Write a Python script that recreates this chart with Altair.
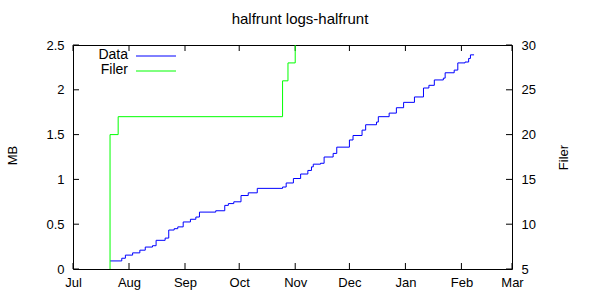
import altair as alt
import pandas as pd

# ---- data ----
data_dates = ["2009-07-21T12:00", "2009-07-28", "2009-07-30", "2009-08-03", "2009-08-07", "2009-08-10",
              "2009-08-14", "2009-08-16", "2009-08-21", "2009-08-23", "2009-08-26", "2009-08-28",
              "2009-08-31", "2009-09-04", "2009-09-07", "2009-09-09", "2009-09-18", "2009-09-23",
              "2009-09-25", "2009-09-28", "2009-10-02", "2009-10-06", "2009-10-11", "2009-10-25",
              "2009-10-27", "2009-10-31", "2009-11-04", "2009-11-08", "2009-11-10", "2009-11-11",
              "2009-11-15", "2009-11-17", "2009-11-22", "2009-11-24", "2009-12-01", "2009-12-03",
              "2009-12-08", "2009-12-10", "2009-12-16", "2009-12-17", "2009-12-23", "2009-12-27",
              "2009-12-31", "2010-01-06", "2010-01-11", "2010-01-14", "2010-01-17", "2010-01-22",
              "2010-01-23", "2010-01-28", "2010-01-30", "2010-02-03", "2010-02-05", "2010-02-06",
              "2010-02-08"]
data_mb = [0.09, 0.12, 0.155, 0.18, 0.21, 0.245,
           0.26, 0.32, 0.345, 0.435, 0.45, 0.47,
           0.525, 0.555, 0.58, 0.635, 0.65, 0.71,
           0.73, 0.75, 0.82, 0.85, 0.90, 0.915,
           0.96, 1.01, 1.06, 1.10, 1.14, 1.17,
           1.18, 1.25, 1.29, 1.36, 1.44, 1.49,
           1.55, 1.61, 1.64, 1.70, 1.74, 1.80,
           1.86, 1.92, 2.02, 2.05, 2.11, 2.13,
           2.19, 2.22, 2.30, 2.31, 2.35, 2.39,
           2.39]

filer_dates = ["2009-07-21T12:00", "2009-07-26", "2009-10-25", "2009-10-28", "2009-11-01", "2009-11-02"]
filer_counts = [5, 20, 22, 26, 28, 34]

month_ticks = ["2009-07-01", "2009-08-01", "2009-09-01", "2009-10-01", "2009-11-01",
               "2009-12-01", "2010-01-01", "2010-02-01", "2010-03-01"]
mb_ticks = [0, 0.5, 1, 1.5, 2, 2.5]
filer_ticks = [5, 10, 15, 20, 25, 30]

series_names = ["Data", "Filer"]
series_colors = ["#0000ff", "#00ff00"]
chart_title = "halfrunt logs-halfrunt"

# ---- layout ----
W, H = 439, 224
FONT = "Liberation Sans"
TICK = 6
LBL = 13

df_data = pd.DataFrame({"date": pd.to_datetime(data_dates, format="ISO8601"), "MB": data_mb})
df_filer = pd.DataFrame({"date": pd.to_datetime(filer_dates, format="ISO8601"), "Filer": filer_counts})
df_months = pd.DataFrame({"date": pd.to_datetime(month_ticks, format="ISO8601")})
df_mb = pd.DataFrame({"v": mb_ticks})
df_ft = pd.DataFrame({"v": filer_ticks})

x_domain = [alt.DateTime(year=2009, month=7, date=1), alt.DateTime(year=2010, month=3, date=1)]
x_scale = alt.Scale(domain=x_domain, nice=False)
x_axis = alt.Axis(
    title=None, values=[alt.DateTime(year=int(d[:4]), month=int(d[5:7]), date=1) for d in month_ticks],
    format="%b", grid=False, ticks=False, domain=False, labelFlush=False, labelPadding=7,
    labelFont=FONT, labelFontSize=LBL, labelColor="black",
)
y_left_scale = alt.Scale(domain=[0, 2.5], nice=False, zero=False)
y_right_scale = alt.Scale(domain=[5, 30], nice=False, zero=False)
y_left_axis = alt.Axis(
    title="MB", values=mb_ticks, format="~g", grid=False, ticks=False, domain=False,
    labelFlush=False, labelPadding=9, labelFont=FONT, labelFontSize=LBL, labelColor="black",
    titleFont=FONT, titleFontSize=13, titleFontWeight="normal", titleColor="black",
    titleAngle=-90, titleAlign="center", titleBaseline="middle", titleX=-61, titleY=110,
)
y_right_axis = alt.Axis(
    orient="right", title="Filer", values=filer_ticks, grid=False, ticks=False, domain=False,
    labelFlush=False, labelPadding=9, labelFont=FONT, labelFontSize=LBL, labelColor="black",
    titleFont=FONT, titleFontSize=13, titleFontWeight="normal", titleColor="black",
    titleAngle=-90, titleAlign="center", titleBaseline="middle", titleX=51, titleY=112,
)

data_line = alt.Chart(df_data).mark_line(
    interpolate="step-after", color=series_colors[0], strokeWidth=1, clip=True
).encode(
    x=alt.X("date:T", scale=x_scale, axis=x_axis),
    y=alt.Y("MB:Q", scale=y_left_scale, axis=y_left_axis),
)

left_ticks = alt.Chart(df_mb).mark_rule(color="black", strokeWidth=1).encode(
    y=alt.Y("v:Q", scale=y_left_scale, axis=y_left_axis), x=alt.value(0), x2=alt.value(TICK)
)
bottom_ticks = alt.Chart(df_months).mark_rule(color="black", strokeWidth=1).encode(
    x=alt.X("date:T", scale=x_scale, axis=x_axis), y=alt.value(H), y2=alt.value(H - TICK)
)
top_ticks = alt.Chart(df_months).mark_rule(color="black", strokeWidth=1).encode(
    x=alt.X("date:T", scale=x_scale, axis=x_axis), y=alt.value(0), y2=alt.value(TICK)
)

left = alt.layer(data_line, left_ticks, bottom_ticks, top_ticks)

filer_line = alt.Chart(df_filer).mark_line(
    interpolate="step-before", color=series_colors[1], strokeWidth=1, clip=True
).encode(
    x=alt.X("date:T", scale=x_scale, axis=x_axis),
    y=alt.Y("Filer:Q", scale=y_right_scale, axis=y_right_axis),
)
right_ticks = alt.Chart(df_ft).mark_rule(color="black", strokeWidth=1).encode(
    y=alt.Y("v:Q", scale=y_right_scale, axis=y_right_axis), x=alt.value(W - TICK), x2=alt.value(W)
)
right = alt.layer(filer_line, right_ticks)

# title as a text mark (centred on the canvas)
title_mark = alt.Chart(pd.DataFrame({"t": [chart_title]})).mark_text(
    align="center", baseline="alphabetic", font=FONT, fontSize=15, color="black"
).encode(text="t:N", x=alt.value(227), y=alt.value(-21))

# manual gnuplot-style key: label on the left, line sample on the right
legend_layers = []
for i, (name, col) in enumerate(zip(series_names, series_colors)):
    yy = 11 + 15 * i
    dfl = pd.DataFrame({"name": [name]})
    legend_layers.append(alt.Chart(dfl).mark_text(
        align="right", baseline="middle", font=FONT, fontSize=14, color="black"
    ).encode(text="name:N", x=alt.value(55), y=alt.value(yy - 1)))
    legend_layers.append(alt.Chart(dfl).mark_rule(color=col, strokeWidth=1).encode(
        x=alt.value(63), x2=alt.value(103), y=alt.value(yy)))

chart = alt.layer(left, right, title_mark, *legend_layers).resolve_scale(y="independent").properties(
    width=W, height=H,
    autosize=alt.AutoSizeParams(type="none"),
    padding={"left": 73, "top": 45, "right": 88, "bottom": 31},
    background="white",
).configure_view(stroke="black", strokeWidth=1)

chart.save("out.html", embed_options={"renderer": "svg", "actions": False})
